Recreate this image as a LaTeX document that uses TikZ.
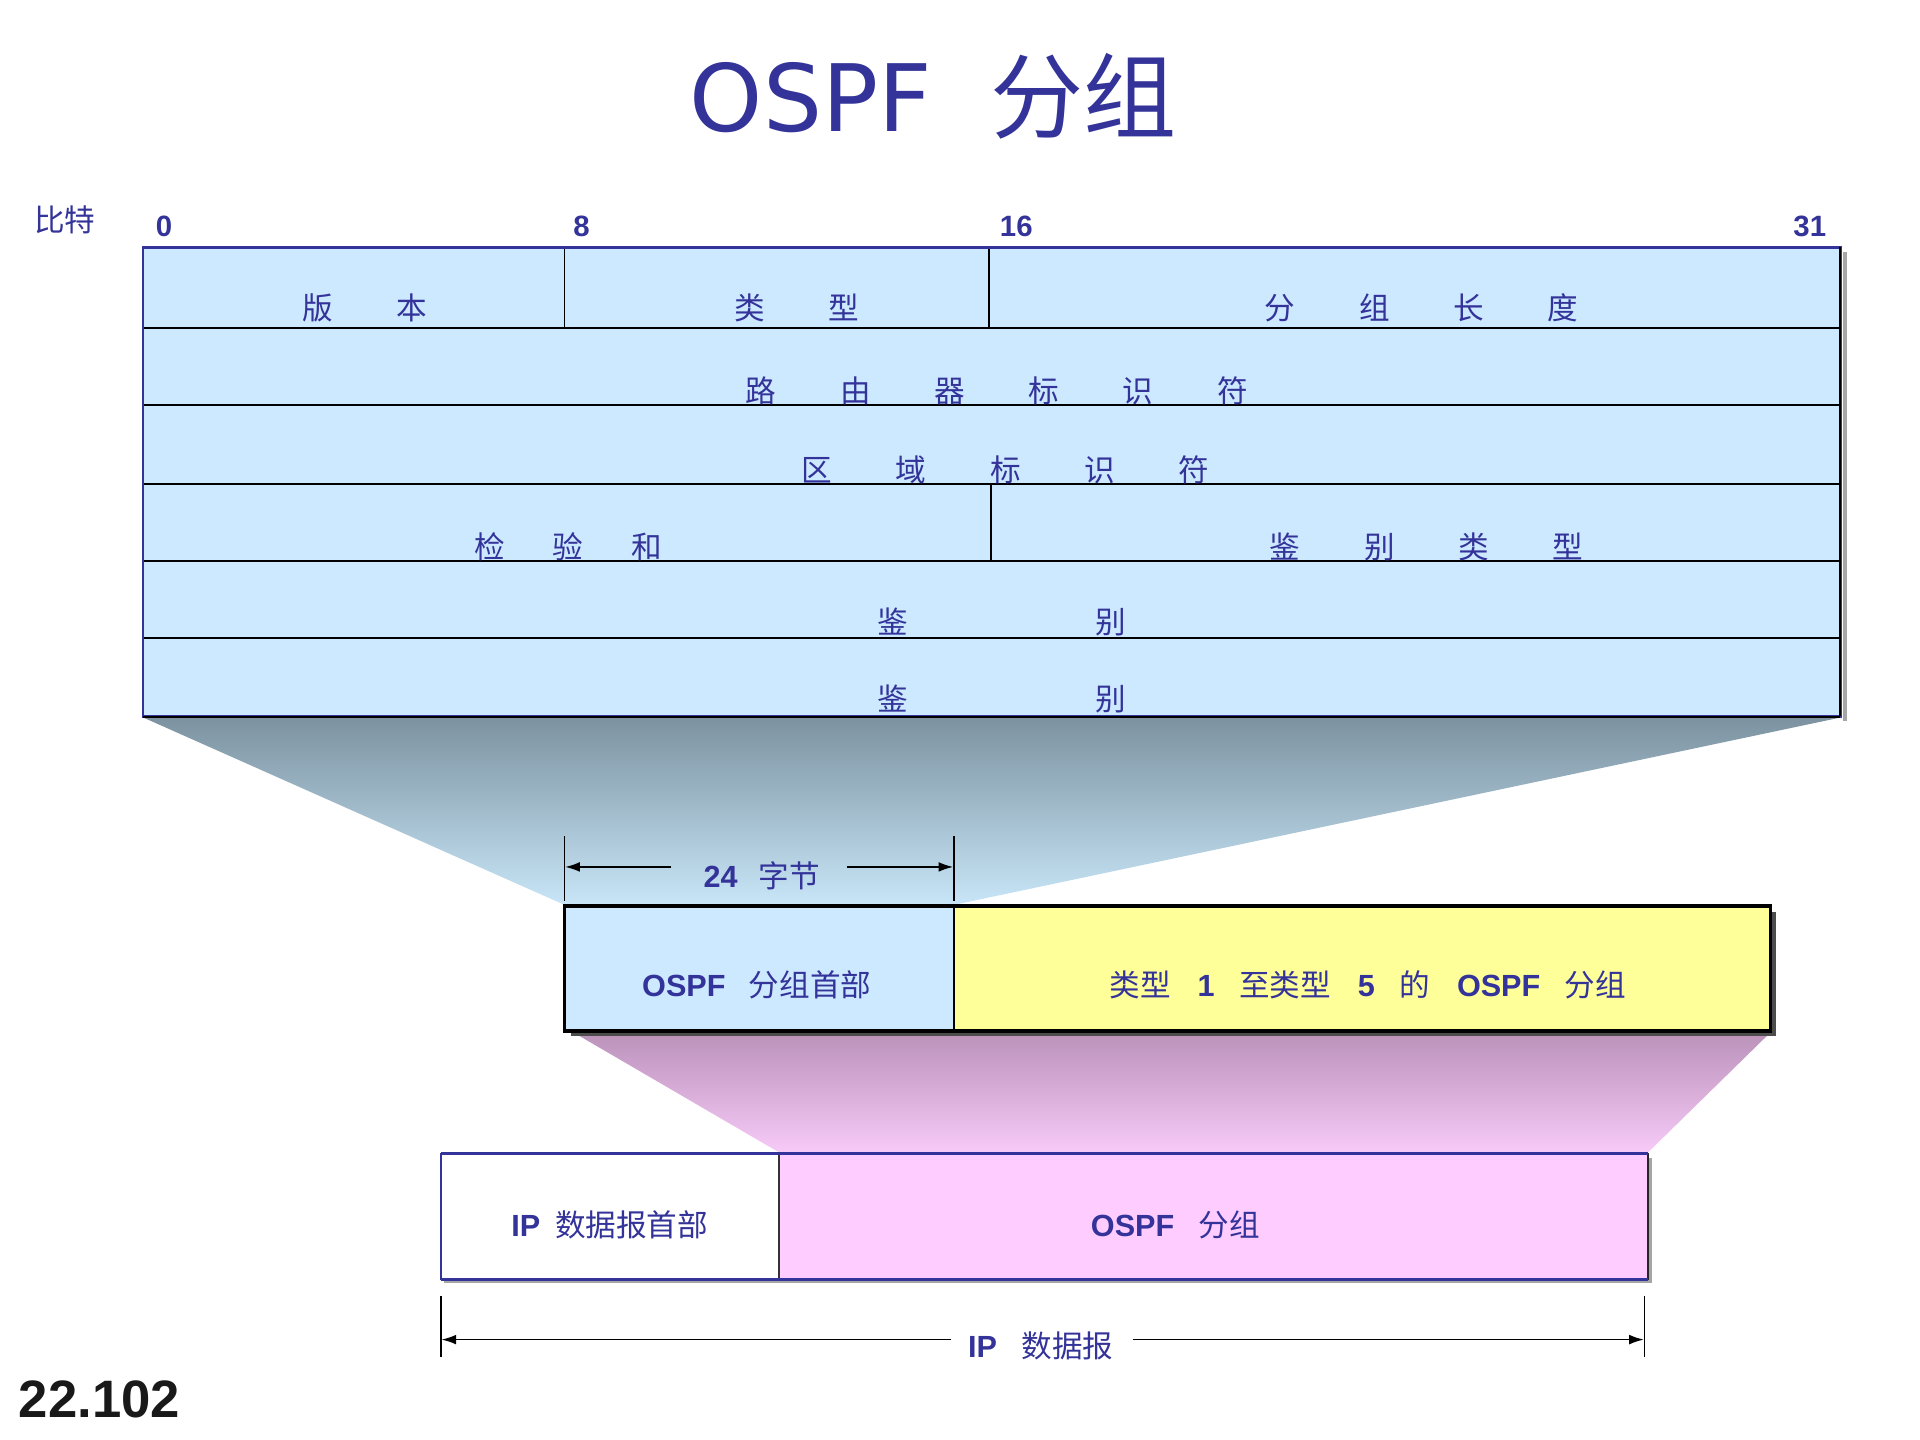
\documentclass[tikz,border=0pt]{standalone}
\usepackage{fontspec}
\setmainfont{Liberation Sans}
\newfontfamily\cjk{Noto Sans CJK SC}
\newfontfamily\titlefont{DejaVu Sans}
\usetikzlibrary{arrows.meta}
\definecolor{ink}{RGB}{51,51,153}
\definecolor{cellblue}{RGB}{204,233,255}
\definecolor{cellyellow}{RGB}{255,255,153}
\definecolor{cellpink}{RGB}{255,204,255}
\definecolor{funA}{RGB}{124,146,160}
\definecolor{funB}{RGB}{200,230,248}
\definecolor{pinkA}{RGB}{186,146,186}
\definecolor{pinkB}{RGB}{247,202,247}
\newcommand\gapA{\hspace{26pt}}
\newcommand\gapB{\hspace{19.5pt}}
\newcommand\gapC{\hspace{76.5pt}}
\tikzset{
  cjkt/.style={text=ink, inner sep=0pt, anchor=base, font=\cjk\fontsize{12.5}{15}\selectfont},
  lbl/.style={text=ink, inner sep=0pt, anchor=base, font=\fontsize{12.5}{15}\selectfont},
  bitno/.style={text=ink, inner sep=0pt, anchor=base, font=\bfseries\fontsize{12}{14}\selectfont},
  rowline/.style={black, line width=0.75pt},
  outline/.style={ink, line width=1pt},
  dimarrow/.style={-{Latex[length=6pt,width=4pt]}, line width=0.7pt, black},
  dimtick/.style={black, line width=0.6pt},
  shadowline/.style={black!35, line width=1.5pt},
}
\begin{document}
\begin{tikzpicture}[x=0.5pt,y=-0.5pt]
\useasboundingbox (0,0) rectangle (1568,1176);

% ---------- title ----------
\node[anchor=base west, inner sep=0pt, text=ink] (title) at (563,107)
  {\titlefont\fontsize{38}{40}\selectfont OSPF\hspace{24pt}{\cjk 分组}};

% ---------- funnels ----------
\shade[top color=funA, bottom color=funB]
  (117,586) -- (1503,586) -- (779,739) -- (461,739) -- cycle;
\shade[top color=pinkA, bottom color=pinkB]
  (468,843) -- (1446,843) -- (1346,941) -- (636,941) -- cycle;

% ---------- header table ----------
\draw[shadowline] (1507,206) -- (1507,589);
\fill[cellblue] (117,202) rectangle (1503,585);
\foreach \yy in {268,331,395,458,521} \draw[rowline] (117,\yy) -- (1503,\yy);
\draw[rowline] (461,202) -- (461,268);
\draw[rowline] (808,202) -- (808,268);
\draw[rowline] (809,395) -- (809,458);
\draw[outline] (117,202) rectangle (1503,585);
\draw[black, line width=1pt] (117,585.5) -- (1503,585.5);
\draw[black, line width=0.8pt] (1503,202) -- (1503,585);

\node[cjkt] (bits) at (53,189) {比特};
\node[bitno] (b0) at (134,193) {0};
\node[bitno] (b8) at (475,193) {8};
\node[bitno] (b16) at (830,193) {16};
\node[bitno] (b31) at (1478,193) {31};

\node[cjkt] (ver) at (298,261) {版\gapA 本};
\node[cjkt] (typ) at (651,261) {类\gapA 型};
\node[cjkt] (len) at (1161,261) {分\gapA 组\gapA 长\gapA 度};
\node[cjkt] (rid) at (814,329) {路\gapA 由\gapA 器\gapA 标\gapA 识\gapA 符};
\node[cjkt] (aid) at (821,393) {区\gapA 域\gapA 标\gapA 识\gapA 符};
\node[cjkt] (chk) at (464,456) {检\gapB 验\gapB 和};
\node[cjkt] (aut) at (1165,456) {鉴\gapA 别\gapA 类\gapA 型};
\node[cjkt] (au1) at (818,517) {鉴\gapC 别};
\node[cjkt] (au2) at (818,580) {鉴\gapC 别};

% ---------- 24 bytes dimension ----------
\coordinate (t1a) at (461,683); \coordinate (t1b) at (461,736);
\coordinate (t2a) at (779,683); \coordinate (t2b) at (779,736);
\draw[dimtick] (t1a) -- (t1b);
\draw[dimtick] (t2a) -- (t2b);
\node[lbl] (bytes) at (622,725) {{\bfseries 24}\hspace{8.5pt}{\cjk 字节}};
\coordinate (a1s) at (548,708); \coordinate (a1e) at (461.5,708);
\coordinate (a2s) at (692,708); \coordinate (a2e) at (778.5,708);
\draw[dimarrow] (a1s) -- (a1e);
\draw[dimarrow] (a2s) -- (a2e);

% ---------- OSPF packet ----------
\fill[black!70] (466,745) rectangle (1450,846);
\fill[cellblue] (461,740) rectangle (779,842);
\fill[cellyellow] (779,740) rectangle (1446,842);
\draw[black, line width=0.7pt] (779,740) -- (779,842);
\draw[black, line width=1.5pt] (461,740) rectangle (1446,842);
\node[lbl] (hdr) at (618,814) {{\bfseries OSPF}\hspace{9.5pt}{\cjk 分组首部}};
\node[lbl] (body) at (1117,814) {{\cjk 类型}\hspace{11pt}{\bfseries 1}\hspace{10pt}{\cjk 至类型}\hspace{11pt}{\bfseries 5}\hspace{10pt}{\cjk 的}\hspace{11pt}{\bfseries OSPF}\hspace{10pt}{\cjk 分组}};

% ---------- IP datagram ----------
\fill[black!35] (363,946) rectangle (1349,1048);
\fill[white] (360,942) rectangle (636,1045);
\fill[cellpink] (636,942) rectangle (1346,1045);
\draw[black!80, line width=0.6pt] (636,942) -- (636,1045);
\draw[ink, line width=0.8pt] (360,942) -- (360,1045);
\draw[black!85, line width=1pt] (1346,942) -- (1346,1045);
\draw[ink, line width=1.5pt] (360,942) -- (1346,942);
\draw[ink, line width=1.5pt] (360,1045) -- (1346,1045);
\node[lbl] (iph) at (498,1010) {{\bfseries IP}\hspace{6pt}{\cjk 数据报首部}};
\node[lbl] (ipb) at (960,1010) {{\bfseries OSPF}\hspace{10pt}{\cjk 分组}};

% ---------- IP datagram dimension ----------
\coordinate (t3a) at (360,1058); \coordinate (t3b) at (360,1108);
\coordinate (t4a) at (1343,1058); \coordinate (t4b) at (1343,1108);
\draw[dimtick] (t3a) -- (t3b);
\draw[dimtick] (t4a) -- (t4b);
\node[lbl] (ipd) at (850,1109) {{\bfseries IP}\hspace{10pt}{\cjk 数据报}};
\coordinate (a3s) at (777,1094); \coordinate (a3e) at (360.5,1094);
\coordinate (a4s) at (925,1094); \coordinate (a4e) at (1342.5,1094);
\draw[dimarrow] (a3s) -- (a3e);
\draw[dimarrow] (a4s) -- (a4e);

% ---------- page number ----------
\node[anchor=base west, inner sep=0pt, text=black!90, font=\bfseries\fontsize{21.5}{24}\selectfont] (pg) at (15,1158) {22.102};
\end{tikzpicture}
\end{document}
